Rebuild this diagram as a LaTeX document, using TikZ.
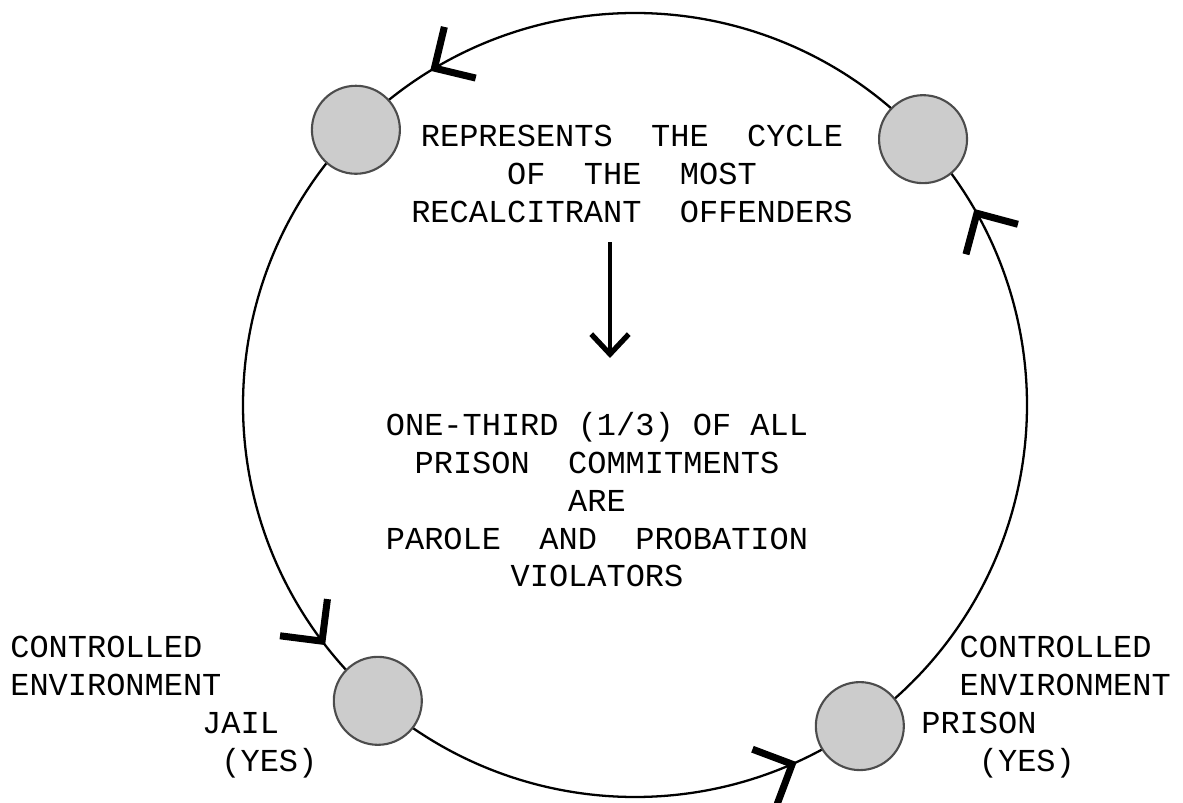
\documentclass[tikz,border=0pt]{standalone}
\usepackage{fontspec}
\setmonofont{Liberation Mono}
\usetikzlibrary{arrows.meta,decorations.markings,backgrounds}

\newcommand{\Rad}{7.84}

\tikzset{
  dot/.style={circle, minimum size=1.76cm, inner sep=0pt, fill=black!20, draw=black!70, line width=1.2pt},
  typed/.style={font=\ttfamily\fontsize{18.2}{21.5}\selectfont, inner sep=0pt},
  cycletip/.tip={Straight Barb[length=0.6cm, width=1.2cm, line width=4pt]},
  cyclearc/.style={line width=1.3pt, postaction={decorate},
    decoration={markings, mark=at position #1 with {\arrow{cycletip}}}},
  downarrow/.style={line width=2.4pt, -{Straight Barb[length=0.4cm, width=0.75cm, line width=3pt]}}
}

\begin{document}
\begin{tikzpicture}

  \useasboundingbox (-12.7,-7.96) rectangle (10.96,8.1);

  % the four stations on the cycle
  \node[dot] (TopL) at (135.4:\Rad) {};
  \node[dot] (TopR) at (42.7:\Rad) {};
  \node[dot] (Jail) at (229:\Rad) {};
  \node[dot] (Prison) at (305:\Rad) {};

  % cycle, running counterclockwise
  \begin{pgfonlayer}{background}
    \draw[cyclearc=0.85] (TopR.center) arc[start angle=42.7, end angle=135.4, radius=\Rad];
    \draw[cyclearc=0.88] (TopL.center) arc[start angle=135.4, end angle=229, radius=\Rad];
    \draw[cyclearc=0.86] (Jail.center) arc[start angle=229, end angle=305, radius=\Rad];
    \draw[cyclearc=0.87] (Prison.center) arc[start angle=305, end angle=402.7, radius=\Rad];
  \end{pgfonlayer}

  % texts inside
  \node[typed, align=center] (cycletext) at (-0.06,4.62)
    {REPRESENTS~~THE~~CYCLE\\OF~~THE~~MOST\\RECALCITRANT~~OFFENDERS};
  \node[typed, align=center] (violators) at (-0.76,-1.9)
    {ONE-THIRD (1/3) OF ALL\\PRISON~~COMMITMENTS\\ARE\\PAROLE~~AND~~PROBATION\\VIOLATORS};

  \coordinate (arrowtip) at (-0.5,0.94);
  \draw[downarrow] (arrowtip |- cycletext.south) ++(0,-0.39) -- (arrowtip);

  % side labels
  \node[typed, align=left, anchor=north west] (JailLabel) at (-12.5,-4.62)
    {CONTROLLED\\ENVIRONMENT\\\hspace*{6em}JAIL\\\hspace*{6.6em}(YES)};
  \node[typed, align=left, anchor=north west] (PrisonLabel) at (5.72,-4.62)
    {\hspace*{1.2em}CONTROLLED\\\hspace*{1.2em}ENVIRONMENT\\PRISON\\\hspace*{1.8em}(YES)};

\end{tikzpicture}
\end{document}
